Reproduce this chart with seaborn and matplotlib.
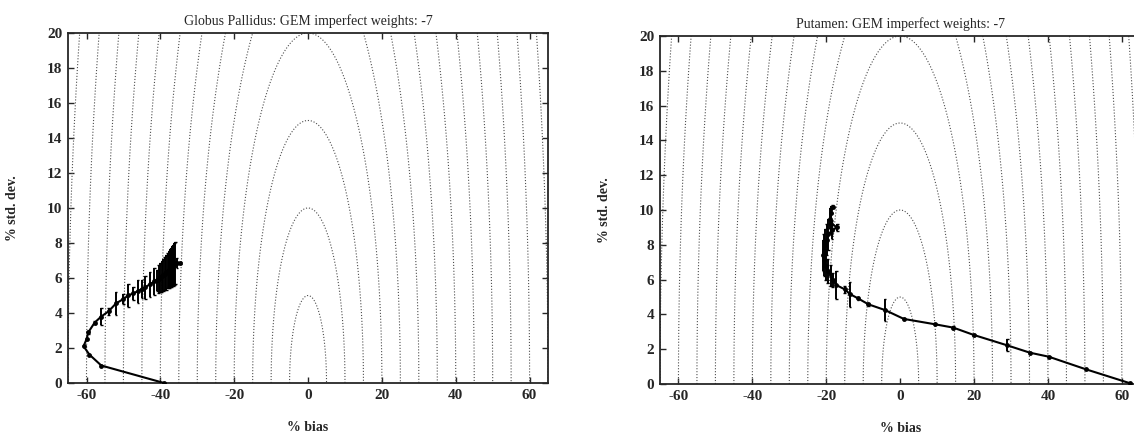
import numpy as np
import pandas as pd
import seaborn as sns
from matplotlib import pyplot as plt

# Globus Pallidus trajectory (% bias, % std. dev., error bar half length)
gp_bias = [-39.0, -56.0, -59.2, -60.8, -60.0, -59.5, -57.8, -56.0, -54.0, -52.0,
           -50.0, -48.7, -47.3, -46.1, -45.0, -44.1, -42.8, -41.6, -40.9, -40.5,
           -40.0, -39.6, -39.2, -38.8, -38.4, -38.0, -37.7, -37.4, -37.1, -36.8,
           -36.5, -36.2, -35.9, -35.5, -34.6]
gp_sd = [0.00, 1.00, 1.62, 2.10, 2.50, 2.90, 3.45, 3.80, 4.10, 4.55,
         4.80, 5.00, 5.12, 5.25, 5.38, 5.46, 5.65, 5.80, 5.88, 5.95,
         6.03, 6.10, 6.17, 6.25, 6.32, 6.40, 6.47, 6.54, 6.60, 6.66,
         6.72, 6.78, 6.83, 6.86, 6.85]
gp_err = [0, 0, 0, 0, 0, 0.1, 0.1, 0.5, 0.2, 0.65,
          0.3, 0.67, 0.35, 0.65, 0.5, 0.67, 0.72, 0.76, 0.6, 0.78,
          0.85, 0.88, 0.9, 0.95, 1.0, 1.0, 1.05, 1.1, 1.1, 1.15,
          1.15, 1.2, 1.2, 0.3, 0.05]

# Putamen trajectory
put_bias = [62.1, 50.2, 40.2, 35.1, 29.0, 19.9, 14.4, 9.5, 1.0, -4.1,
            -8.6, -11.4, -13.6, -15.0, -17.3, -18.3, -18.8, -19.6, -20.2, -20.6,
            -20.9, -20.7, -20.3, -19.9, -19.4, -18.4, -17.0, -18.6, -18.9, -18.6,
            -18.3]
put_sd = [0.05, 0.85, 1.57, 1.80, 2.22, 2.82, 3.24, 3.43, 3.74, 4.25,
          4.58, 4.92, 5.17, 5.44, 5.69, 5.98, 6.26, 6.50, 6.80, 7.10,
          7.40, 7.70, 8.00, 8.30, 8.60, 8.85, 9.00, 9.20, 9.50, 9.85,
          10.2]
put_err = [0, 0, 0, 0.05, 0.35, 0.05, 0.1, 0, 0.05, 0.62,
           0.1, 0.1, 0.72, 0.2, 0.8, 0.4, 0.6, 0.7, 0.8, 0.9,
           0.9, 0.9, 0.9, 0.9, 0.9, 0.5, 0.2, 0.6, 0.6, 0.4,
           0.1]

# rms error contour levels
levels = [5, 10, 15, 20, 25, 30, 35, 40, 45, 50, 55, 60, 65, 70]
xticks = [-60, -40, -20, 0, 20, 40, 60]
yticks = [0, 2, 4, 6, 8, 10, 12, 14, 16, 18, 20]

titles = ["Globus Pallidus: GEM imperfect weights: -7",
          "Putamen: GEM imperfect weights: -7"]

sns.set_style("ticks")
plt.rcParams['font.family'] = ['Liberation Serif', 'DejaVu Serif']
plt.rcParams['axes.unicode_minus'] = False
plt.rcParams['xtick.direction'] = 'in'
plt.rcParams['ytick.direction'] = 'in'

fig = plt.figure(figsize=(11.34, 4.34), dpi=100)
ax1 = fig.add_axes([0.060, 0.1175, 0.4233, 0.8065])
ax2 = fig.add_axes([0.582, 0.1152, 0.4236, 0.8018])

gx, gy = np.meshgrid(np.linspace(-66, 66, 400), np.linspace(0, 20.5, 200))
rms = np.hypot(gx, gy)

for ax, bias, sd, err, title in [(ax1, gp_bias, gp_sd, gp_err, titles[0]),
                                 (ax2, put_bias, put_sd, put_err, titles[1])]:
    ax.contour(gx, gy, rms, levels=levels, colors='0.3',
               linestyles=':', linewidths=0.8)
    df = pd.DataFrame({"bias": bias, "sd": sd, "err": err})
    bars = df[df["err"] > 0]
    tee = 0.35
    ax.vlines(bars["bias"], bars["sd"] - bars["err"], bars["sd"] + bars["err"],
              color='black', lw=1.4, zorder=3)
    ax.hlines(bars["sd"] - bars["err"], bars["bias"] - tee, bars["bias"] + tee,
              color='black', lw=1.0, zorder=3)
    ax.hlines(bars["sd"] + bars["err"], bars["bias"] - tee, bars["bias"] + tee,
              color='black', lw=1.0, zorder=3)
    sns.lineplot(x="bias", y="sd", data=df, sort=False, ax=ax, color='black',
                 lw=1.5, marker='o', markersize=3.5, markeredgewidth=0,
                 estimator=None, zorder=4)
    ax.set_xlim(-65, 65)
    ax.set_ylim(0, 20)
    ax.set_xticks(xticks)
    ax.set_yticks(yticks)
    ax.tick_params(top=True, right=True, length=4, width=1, labelsize=11, pad=4)
    for lab in ax.get_xticklabels() + ax.get_yticklabels():
        lab.set_fontweight('bold')
    for s in ax.spines.values():
        s.set_linewidth(1.3)
        s.set_visible(True)
    ax.set_xlabel("% bias", fontsize=10, fontweight='bold', labelpad=14)
    ax.set_ylabel("% std. dev.", fontsize=10, fontweight='bold', labelpad=20)
    ax.set_title(title, fontsize=10, pad=6)

fig.savefig("out.png", dpi=100)
